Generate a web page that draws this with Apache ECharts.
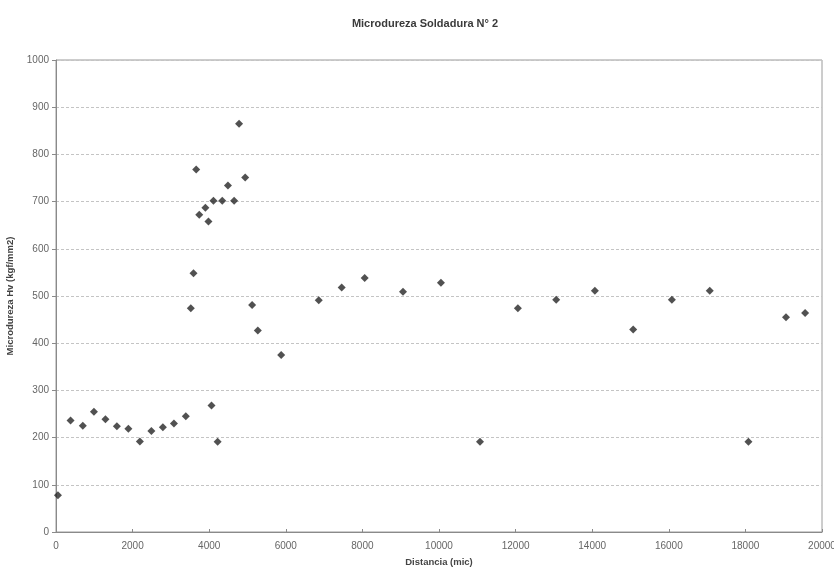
<!DOCTYPE html>
<html>
<head>
<meta charset="utf-8">
<script src="https://cdn.jsdelivr.net/npm/echarts@6/dist/echarts.min.js"></script>
<style>
html,body{margin:0;padding:0;background:#fff;}
#chart{width:834px;height:570px;}
</style>
</head>
<body>
<div id="chart"></div>
<script>
// Distance along the weld (mic)
const distances = [50, 380, 700, 990, 1290, 1590, 1890, 2190, 2490, 2790, 3080, 3390,
  3520, 3590, 3660, 3740, 3900, 3980, 4060, 4110, 4220, 4340, 4490, 4650, 4780, 4940,
  5120, 5270, 5880, 6860, 7460, 8060, 9060, 10050, 11070, 12060, 13060, 14070, 15070,
  16080, 17070, 18080, 19060, 19560];
// Microhardness Hv (kgf/mm2)
const hardness = [78, 236, 225, 255, 239, 224, 219, 192, 214, 222, 230, 245,
  474, 548, 768, 672, 687, 658, 268, 702, 191, 702, 734, 702, 865, 751,
  481, 427, 375, 491, 518, 538, 509, 528, 191, 474, 492, 511, 429,
  492, 511, 191, 455, 464];

const titleText = 'Microdureza Soldadura N° 2';
const xName = 'Distancia (mic)';
const yName = 'Microdureza Hv (kgf/mm2)';

const points = distances.map((d, i) => [d, hardness[i]]);

const chart = echarts.init(document.getElementById('chart'));
const fam = 'Liberation Sans, Arial, sans-serif';
const plain = v => String(v);
chart.setOption({
  animation: false,
  backgroundColor: '#ffffff',
  title: {
    text: titleText,
    left: 420, top: 13, textAlign: 'center',
    textStyle: {fontFamily: fam, fontSize: 11, fontWeight: 'bold', color: '#3a3a3a'}
  },
  grid: {left: 56, right: 12, top: 60, bottom: 38, outerBoundsMode: 'none', containLabel: false,
    show: true, borderColor: '#9a9a9a', borderWidth: 1, backgroundColor: 'transparent'},
  xAxis: {
    type: 'value', min: 0, max: 20000, interval: 2000,
    name: xName, nameLocation: 'middle', nameGap: 25,
    nameTextStyle: {fontFamily: fam, fontSize: 9.5, fontWeight: 'bold', color: '#444'},
    axisLine: {show: true, onZero: false, lineStyle: {color: '#8a8a8a'}},
    axisTick: {show: true, inside: true, length: 3, lineStyle: {color: '#8a8a8a'}},
    axisLabel: {fontFamily: fam, fontSize: 10, color: '#666', margin: 9, formatter: plain},
    splitLine: {show: false}
  },
  yAxis: {
    type: 'value', min: 0, max: 1000, interval: 100,
    name: yName, nameLocation: 'middle', nameGap: 40, nameRotate: 90,
    nameTextStyle: {fontFamily: fam, fontSize: 9.5, fontWeight: 'bold', color: '#444'},
    axisLine: {show: true, lineStyle: {color: '#8a8a8a'}},
    axisTick: {show: true, length: 4, lineStyle: {color: '#8a8a8a'}},
    axisLabel: {fontFamily: fam, fontSize: 10, color: '#666', margin: 7, formatter: plain},
    splitLine: {show: true, lineStyle: {color: '#c4c4c4', type: [3, 2], width: 1}}
  },
  series: [{
    type: 'scatter',
    data: points,
    symbol: 'diamond',
    symbolSize: 8,
    itemStyle: {color: '#262626'}
  }]
});
</script>
</body>
</html>
